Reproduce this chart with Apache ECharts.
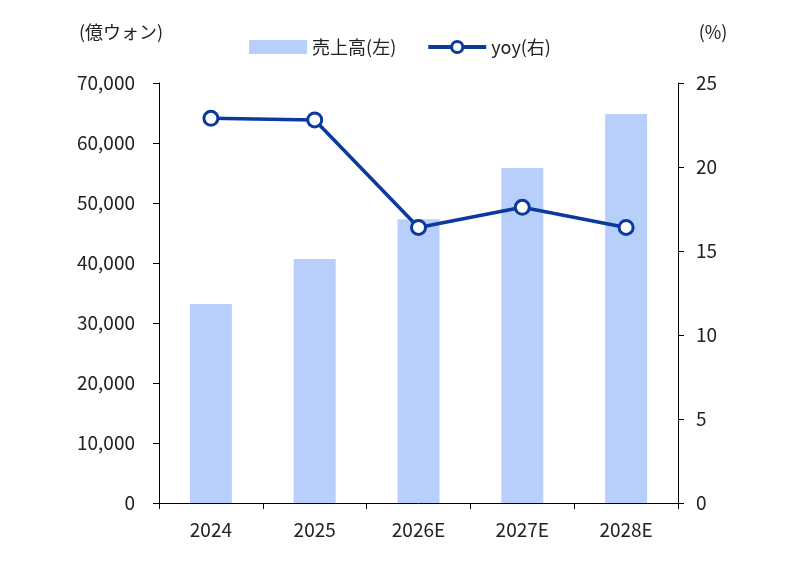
<!DOCTYPE html>
<html>
<head>
<meta charset="utf-8">
<script src="https://cdn.jsdelivr.net/npm/echarts@6/dist/echarts.min.js"></script>
<style>
html,body{margin:0;padding:0;background:#fff;}
#chart{width:800px;height:561px;}
</style>
</head>
<body>
<div id="chart"></div>
<script>
var years = ['2024', '2025', '2026E', '2027E', '2028E'];
var sales = [33150, 40650, 47300, 55850, 64850];
var yoy = [22.9, 22.8, 16.4, 17.6, 16.4];

var font = '"Noto Sans CJK JP", "Noto Sans", sans-serif';
var lineColor = '#0A3A9C';

var chart = echarts.init(document.getElementById('chart'));
chart.setOption({
  animation: false,
  textStyle: { fontFamily: font },
  legend: {
    top: 33,
    left: 'center',
    itemGap: 30,
    textStyle: { color: '#222', fontSize: 18, fontFamily: font },
    data: [
      { name: '売上高(左)', icon: 'rect', itemStyle: { color: '#B9CFFB' } },
      { name: 'yoy(右)', lineStyle: { width: 4, color: lineColor },
        itemStyle: { color: '#fff', borderColor: lineColor, borderWidth: 3 } }
    ],
    itemWidth: 58,
    itemHeight: 14
  },
  grid: { left: 159, right: 122, top: 83, bottom: 58 },
  xAxis: {
    type: 'category',
    data: years,
    axisLine: { lineStyle: { color: '#000', width: 1 } },
    axisTick: { show: true, length: 6, inside: false, lineStyle: { color: '#000' } },
    axisLabel: { color: '#222', fontSize: 19, margin: 17 }
  },
  yAxis: [
    {
      type: 'value',
      min: 0, max: 70000, interval: 10000,
      name: '(億ウォン)',
      nameLocation: 'end',
      nameGap: 42,
      nameTextStyle: { color: '#222', fontSize: 18, align: 'center', padding: [0, 0, 0, -76] },
      axisLine: { show: true, lineStyle: { color: '#000' } },
      axisTick: { show: true, length: 6, lineStyle: { color: '#000' } },
      splitLine: { show: false },
      axisLabel: {
        color: '#222', fontSize: 19, margin: 24,
        formatter: function (v) { return v.toLocaleString('en-US'); }
      }
    },
    {
      type: 'value',
      min: 0, max: 25, interval: 5,
      name: '(%)',
      nameLocation: 'end',
      nameGap: 42,
      nameTextStyle: { color: '#222', fontSize: 18, align: 'center', padding: [0, 0, 0, 70] },
      axisLine: { show: true, lineStyle: { color: '#000' } },
      axisTick: { show: true, length: 6, lineStyle: { color: '#000' } },
      splitLine: { show: false },
      axisLabel: { color: '#222', fontSize: 19, margin: 18 }
    }
  ],
  series: [
    {
      name: '売上高(左)',
      type: 'bar',
      data: sales,
      barWidth: 42,
      itemStyle: { color: '#B9CFFB' }
    },
    {
      name: 'yoy(右)',
      type: 'line',
      yAxisIndex: 1,
      data: yoy,
      symbol: 'circle',
      symbolSize: 14,
      lineStyle: { color: lineColor, width: 3.5 },
      itemStyle: { color: '#fff', borderColor: lineColor, borderWidth: 3 }
    }
  ]
});
</script>
</body>
</html>
